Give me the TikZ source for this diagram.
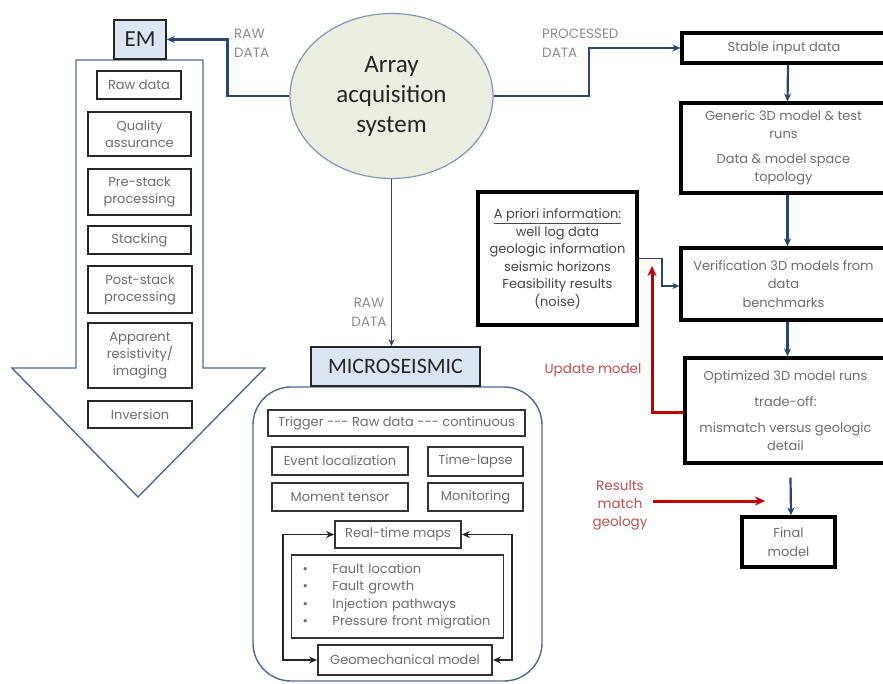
\documentclass[tikz,border=0pt]{standalone}
\usepackage{fontspec}
\setmainfont{Poppins}
\newfontfamily\calib{Carlito}
\usetikzlibrary{arrows.meta,shapes.geometric}
\definecolor{boxtext}{HTML}{6E6E6E}
\definecolor{navy}{HTML}{2B4570}
\definecolor{arrowblue}{HTML}{4F6A92}
\definecolor{ellfill}{HTML}{ECEEE2}
\definecolor{ellline}{HTML}{8296B4}
\definecolor{lblue}{HTML}{DCE6F2}
\definecolor{redline}{HTML}{C00000}
\definecolor{redtext}{HTML}{C0504D}
\definecolor{labgray}{HTML}{8C8C8C}
\newcommand\bul{\makebox[30pt][l]{\textbullet}}
\begin{document}
\begin{tikzpicture}[x=1pt,y=-1pt,
  gbox/.style={draw=black!85, line width=2pt, text=boxtext, font=\fontsize{13}{17}\selectfont, align=center, inner sep=0pt},
  rbox/.style={draw=black, line width=3.2pt, text=boxtext, font=\fontsize{13}{18.5}\selectfont, align=center, inner sep=0pt},
  mbox/.style={draw=black!80, line width=1.8pt, text=boxtext, font=\fontsize{13}{17.5}\selectfont, align=center, inner sep=0pt},
  titlebox/.style={draw=black!85, line width=1.6pt, fill=lblue, text=black!85, font=\calib\fontsize{23}{26}\selectfont, inner sep=0pt},
  conn/.style={draw=navy, line width=2.2pt, -{Stealth[length=8pt,width=7pt]}},
  thinconn/.style={draw=navy, line width=1.8pt, -{Stealth[length=7pt,width=6pt]}},
  loopconn/.style={draw=black!85, line width=1.5pt, {Stealth[length=8pt,width=7pt]}-{Stealth[length=8pt,width=7pt]}},
  redconn/.style={draw=redline, line width=3pt, -{Stealth[length=10pt,width=9pt]}},
  graylabel/.style={text=labgray, font=\fontsize{13.5}{19}\selectfont, align=left, inner sep=0pt},
  redlabel/.style={text=redtext, font=\fontsize{13.5}{18}\selectfont, align=center, inner sep=0pt}
]
\useasboundingbox[fill=white] (0,0) rectangle (883,683);

% ---------- EM column ----------
\draw[draw=arrowblue, line width=1.4pt, fill=white]
  (76,60) -- (203,60) -- (203,368) -- (265,368) -- (138,497) -- (12,368) -- (76,368) -- cycle;
\node[titlebox, minimum width=52, minimum height=39] (em) at (140,39.5) {EM};
\node[gbox, minimum width=84, minimum height=28] (rawdata) at (139,85) {Raw data};
\node[gbox, minimum width=103, minimum height=44] (qa) at (139.5,134) {Quality\\assurance};
\node[gbox, minimum width=103, minimum height=46] (prestack) at (139.5,192) {Pre-stack\\processing};
\node[gbox, minimum width=103, minimum height=28] (stacking) at (139.5,240) {Stacking};
\node[gbox, minimum width=104, minimum height=47] (poststack) at (140,289.5) {Post-stack\\processing};
\node[gbox, minimum width=104, minimum height=65] (apparent) at (140,355.5) {Apparent\\resistivity/\\imaging};
\node[gbox, minimum width=104, minimum height=27] (inversion) at (140,414.5) {Inversion};

% ---------- central ellipse ----------
\node[ellipse, draw=ellline, line width=1.2pt, fill=ellfill, minimum width=203, minimum height=165,
      text=black!85, align=center, inner sep=0pt, font=\calib\fontsize{25}{30}\selectfont] (arr) at (391.5,96) {Array\\acquisition\\system};

\node[graylabel, anchor=west] (rawlab1) at (234,43) {RAW\\DATA};
\node[graylabel, anchor=west] (proclab) at (542,43) {PROCESSED\\DATA};
\node[graylabel, align=center] (rawlab2) at (369,312) {RAW\\DATA};

% ---------- right column ----------
\node[rbox, minimum width=204, minimum height=30] (stable) at (784,48) {Stable input data};
\node[rbox, minimum width=205, minimum height=90] (generic) at (783.5,148)
  {Generic 3D model \& test\\runs\\[6pt]Data \& model space\\topology};
\node[rbox, minimum width=205, minimum height=72] (verif) at (783.5,284)
  {Verification 3D models from\\data\\benchmarks};
\node[rbox, font=\fontsize{13}{17.5}\selectfont, minimum width=201, minimum height=105] (optim) at (785.5,410.5)
  {Optimized 3D model runs\\[8pt]trade-off:\\[9pt]mismatch versus geologic\\detail};
\node[rbox, minimum width=93, minimum height=50] (final) at (788.5,542) {Final\\model};
\node[rbox, text=black!72, font=\fontsize{13}{17.5}\selectfont, minimum width=159, minimum height=133] (apriori) at (557.5,258.5)
  {\underline{A priori information:}\\well log data\\geologic information\\seismic horizons\\Feasibility results\\(noise)};

\draw[conn] (arr.west) -- ++(-62,0) |- (em.east);
\draw[conn] (arr.east) -- ++(95,0) |- (stable.west);

\draw[conn] ([xshift=4pt]stable.south) -- ([xshift=4pt]generic.north);
\draw[conn] ([xshift=4pt]generic.south) -- ([xshift=4pt]verif.north);
\draw[conn] ([xshift=4pt]verif.south) -- ([xshift=2pt]optim.north);
\draw[conn] ([xshift=5pt,yshift=-13pt]optim.south) -- ([xshift=2.5pt]final.north);
\draw[thinconn] (apriori.east) -- ++(23,0) |- ([yshift=-2pt]verif.west);

\coordinate (updtip) at (652,266);
\coordinate (resstart) at (653,501);
\coordinate (resend) at (765,501);
\draw[redconn] ([yshift=-2pt]optim.west) -| (updtip);
\draw[redconn] (resstart) -- (resend);
\node[redlabel] (updlab) at (593,370) {Update model};
\node[redlabel] (reslab) at (620,505) {Results\\match\\geology};

% ---------- microseismic ----------
\draw[draw=arrowblue, line width=1.4pt, rounded corners=38] (253,387) rectangle (542,681);
\node[titlebox, font=\calib\fontsize{22}{26}\selectfont, minimum width=169, minimum height=39] (micro) at (395.5,366.5) {MICROSEISMIC};
\draw[thinconn] (arr.south) -- (arr.south |- micro.north);

\node[mbox, minimum width=257, minimum height=26] (trigger) at (396.5,423) {Trigger {-}{-}{-} Raw data {-}{-}{-} continuous};
\node[mbox, minimum width=136, minimum height=28] (event) at (340,461) {Event localization};
\node[mbox, minimum width=95, minimum height=29] (timelapse) at (475.5,461.5) {Time-lapse};
\node[mbox, minimum width=136, minimum height=28] (moment) at (340,497) {Moment tensor};
\node[mbox, minimum width=95, minimum height=28] (monitor) at (475.5,497) {Monitoring};
\node[mbox, minimum width=126, minimum height=27] (realtime) at (398,534.5) {Real-time maps};
\node[mbox, minimum width=211, minimum height=83, align=left, text width=190, inner xsep=11pt] (bullets) at (397.5,596.5)
  {\bul Fault location\\\bul Fault growth\\\bul Injection pathways\\\bul Pressure front migration};
\node[mbox, minimum width=174, minimum height=30] (geomech) at (405,660) {Geomechanical model};

\coordinate (lx) at (283,600);
\coordinate (rx) at (512,600);
\draw[loopconn] (realtime.west) -- (realtime.west -| lx) |- (geomech.west);
\draw[loopconn] (realtime.east) -- (realtime.east -| rx) |- (geomech.east);
\end{tikzpicture}
\end{document}
